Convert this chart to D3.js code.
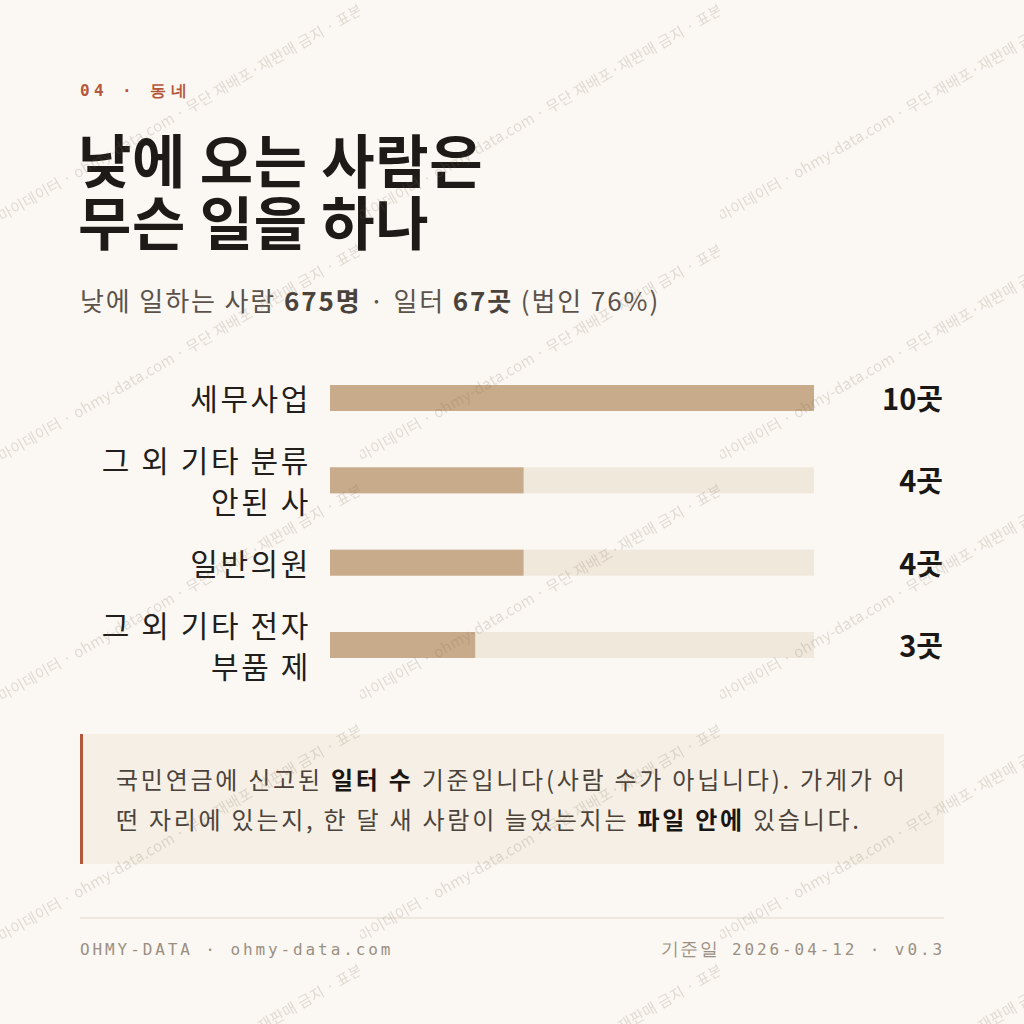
<!DOCTYPE html>
<html><head><meta charset="utf-8">
<script src="https://cdn.jsdelivr.net/npm/d3@7"></script>
<style>
html,body{margin:0;padding:0;background:#fbf8f3;}
svg{display:block;}
</style></head>
<body>
<script>
const categories = [["세무사업"], ["그 외 기타 분류", "안된 사"], ["일반의원"], ["그 외 기타 전자", "부품 제"]];
const values = [10, 4, 4, 3];
const valueLabels = ["10곳", "4곳", "4곳", "3곳"];
const maxValue = 10;

const W = 1024, H = 1024;
const KR = "'Noto Sans CJK KR','Noto Sans',sans-serif";
const MONO = "'DejaVu Sans Mono','Liberation Mono',monospace";

const svg = d3.select("body").append("svg").attr("width", W).attr("height", H);
svg.append("rect").attr("width", W).attr("height", H).attr("fill", "#fbf8f3");

// header
svg.append("text").attr("x", 80).attr("y", 96)
  .attr("font-family", MONO).attr("font-size", 16).attr("font-weight", 700)
  .attr("letter-spacing", 4.4).attr("fill", "#b4573b")
  .text("04 · 동네");

// title
svg.append("text").attr("font-family", KR).attr("font-weight", 700)
  .attr("font-size", 58).attr("letter-spacing", 0.6).attr("fill", "#1d1a17")
  .attr("x", 78).attr("y", 183).text("낮에 오는 사람은");
svg.append("text").attr("font-family", KR).attr("font-weight", 700)
  .attr("font-size", 58).attr("letter-spacing", 0.6).attr("fill", "#1d1a17")
  .attr("x", 78).attr("y", 245).text("무슨 일을 하나");

// subtitle
const sub = svg.append("text").attr("x", 80).attr("y", 311)
  .attr("font-family", KR).attr("font-size", 26).attr("letter-spacing", 1.9).attr("fill", "#5b534b");
sub.append("tspan").text("낮에 일하는 사람 ");
sub.append("tspan").attr("font-weight", 700).attr("fill", "#4a433c").text("675명");
sub.append("tspan").text(" · 일터 ");
sub.append("tspan").attr("font-weight", 700).attr("fill", "#4a433c").text("67곳");
sub.append("tspan").text(" (법인 76%)");

// chart
const x = d3.scaleLinear().domain([0, maxValue]).range([330, 814]);
const y = d3.scalePoint().domain(d3.range(categories.length)).range([398, 645]);
const barH = 26;

const rows = svg.append("g").selectAll("g").data(values).join("g");
rows.append("rect").attr("x", x(0)).attr("y", (d, i) => y(i) - barH / 2)
  .attr("width", x(maxValue) - x(0)).attr("height", barH).attr("fill", "#f1e8dc");
rows.append("rect").attr("x", x(0)).attr("y", (d, i) => y(i) - barH / 2)
  .attr("width", d => x(d) - x(0)).attr("height", barH).attr("fill", "#c8ab8b");

rows.each(function (d, i) {
  const lines = categories[i];
  const t = d3.select(this).append("text").attr("text-anchor", "end")
    .attr("font-family", KR).attr("font-size", 30).attr("letter-spacing", 2.6).attr("fill", "#221e1b");
  const lh = 41;
  lines.forEach((ln, k) => {
    t.append("tspan").attr("x", 311)
      .attr("y", y(i) + 12 + (k - (lines.length - 1) / 2) * lh).text(ln);
  });
  d3.select(this).append("text").attr("text-anchor", "end").attr("x", 943)
    .attr("y", y(i) + 12).attr("font-family", KR).attr("font-weight", 700)
    .attr("font-size", 29).attr("fill", "#1a1715").text(valueLabels[i]);
});

// callout
svg.append("rect").attr("x", 80).attr("y", 734).attr("width", 864).attr("height", 130).attr("fill", "#f6efe5");
svg.append("rect").attr("x", 80).attr("y", 734).attr("width", 3).attr("height", 130).attr("fill", "#b5573b");
const noteLines = [
  [["국민연금에 신고된 ", 0], ["일터 수", 1], [" 기준입니다(사람 수가 아닙니다). 가게가 어", 0]],
  [["떤 자리에 있는지, 한 달 새 사람이 늘었는지는 ", 0], ["파일 안에", 1], [" 있습니다.", 0]]
];
noteLines.forEach((ln, k) => {
  const t = svg.append("text").attr("x", 116).attr("y", 789 + k * 40)
    .attr("font-family", KR).attr("font-size", 24).attr("letter-spacing", 2.75).attr("fill", "#4b433b");
  ln.forEach(([s, b]) => {
    const sp = t.append("tspan").text(s);
    if (b) sp.attr("font-weight", 700).attr("fill", "#1a1614");
  });
});

// footer
svg.append("line").attr("x1", 80).attr("x2", 944).attr("y1", 918).attr("y2", 918)
  .attr("stroke", "#e9e2d8").attr("stroke-width", 1.5);
svg.append("text").attr("x", 80).attr("y", 955).attr("font-family", MONO)
  .attr("font-size", 16).attr("letter-spacing", 2.9).attr("fill", "#9a8f82")
  .text("OHMY-DATA · ohmy-data.com");
const fr = svg.append("text").attr("x", 945).attr("y", 955).attr("text-anchor", "end").attr("font-family", MONO)
  .attr("font-size", 16).attr("letter-spacing", 2.9).attr("fill", "#9a8f82");
fr.append("tspan").attr("font-size", 18).attr("letter-spacing", 1.5).text("기준일");
fr.append("tspan").text(" 2026-04-12 · v0.3");

// watermark
const defs = svg.append("defs");
const pat = defs.append("pattern").attr("id", "wm").attr("patternUnits", "userSpaceOnUse")
  .attr("width", 360).attr("height", 240);
pat.append("text").attr("x", 2).attr("y", 222).attr("transform", "rotate(-30,2,222)")
  .attr("font-family", KR).attr("font-size", 15).attr("letter-spacing", 0.3).attr("fill", "rgba(120,100,80,0.2)")
  .text("마이데이터 · ohmy-data.com · 무단 재배포·재판매 금지 · 표본 데이터");
svg.append("rect").attr("width", W).attr("height", H).attr("fill", "url(#wm)").attr("pointer-events", "none");
</script>
</body></html>
